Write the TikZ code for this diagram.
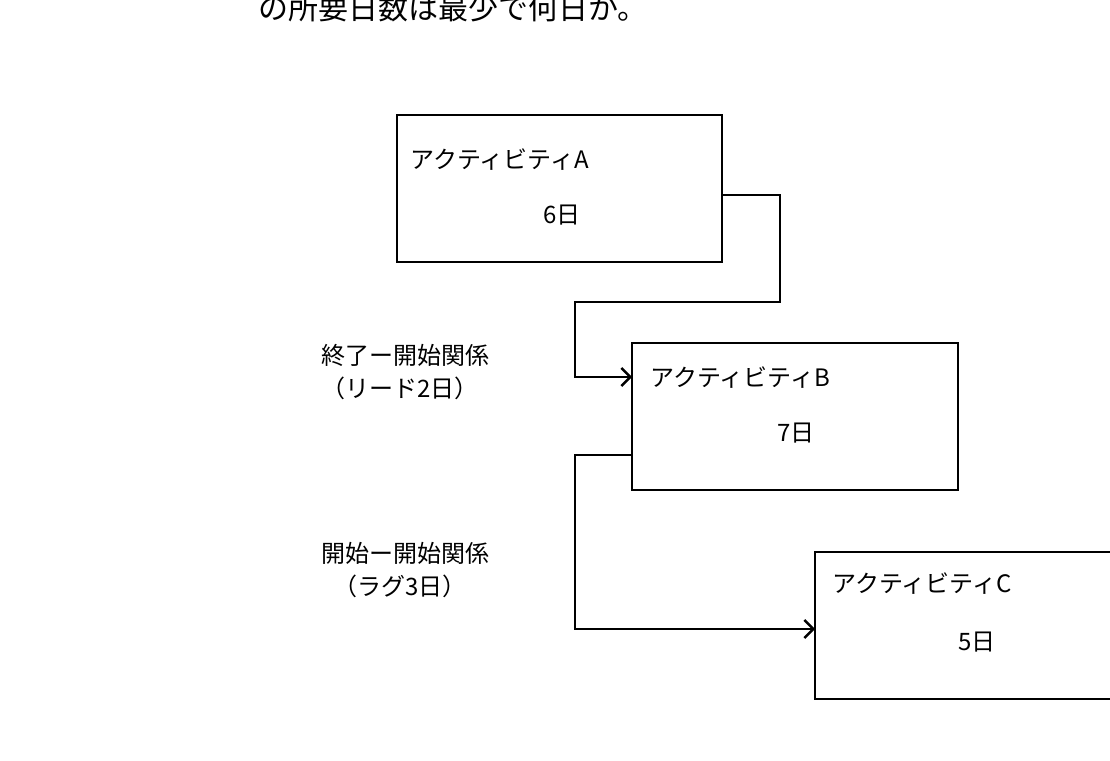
\documentclass[tikz,border=0pt]{standalone}
\usepackage{fontspec}
\newfontfamily\cjk{Noto Sans CJK JP}
\usetikzlibrary{arrows.meta}
\begin{document}
\begin{tikzpicture}[x=1pt,y=-1pt,
  box/.style={draw,line width=2.6pt},
  lbl/.style={font=\cjk\fontsize{24}{28}\selectfont,inner sep=0pt},
  con/.style={line width=2.6pt},
  arr/.style={con,-{Straight Barb[length=9pt,width=18pt,line width=2.4pt]}}]
\useasboundingbox (0,0) rectangle (1110,760);
\clip (0,0) rectangle (1110,760);
\node[lbl,anchor=base west,font=\cjk\fontsize{30}{34}\selectfont] (q) at (258,20) {の所要日数は最少で何日か。};
\draw[box] (397,115) rectangle (722,262);
\coordinate (A) at (722,195);
\draw[box] (632,343) rectangle (958,490);
\coordinate (Bin) at (632,377);
\coordinate (Bout) at (632,455);
\draw[box] (815,552) rectangle (1120,699);
\coordinate (Cin) at (815,629);
\node[lbl,anchor=west] (ta) at (410,160) {アクティビティA};
\node[lbl] (da) at (562,215) {6日};
\node[lbl,anchor=west] (tb) at (650,378) {アクティビティB};
\node[lbl] (db) at (796,433) {7日};
\node[lbl,anchor=west] (tc) at (832,584) {アクティビティC};
\node[lbl] (dc) at (977,642) {5日};
\node[lbl] (l1) at (405,355) {終了ー開始関係};
\node[lbl] (l2) at (400,388) {（リード2日）};
\node[lbl] (l3) at (405,553) {開始ー開始関係};
\node[lbl] (l4) at (400,586) {（ラグ3日）};
\draw[arr] (A) -- (780,195) -- (780,302) -- (575,302) -- (575,377) -- (Bin);
\draw[arr] (Bout) -- (575,455) -- (575,629) -- (Cin);
\end{tikzpicture}
\end{document}
